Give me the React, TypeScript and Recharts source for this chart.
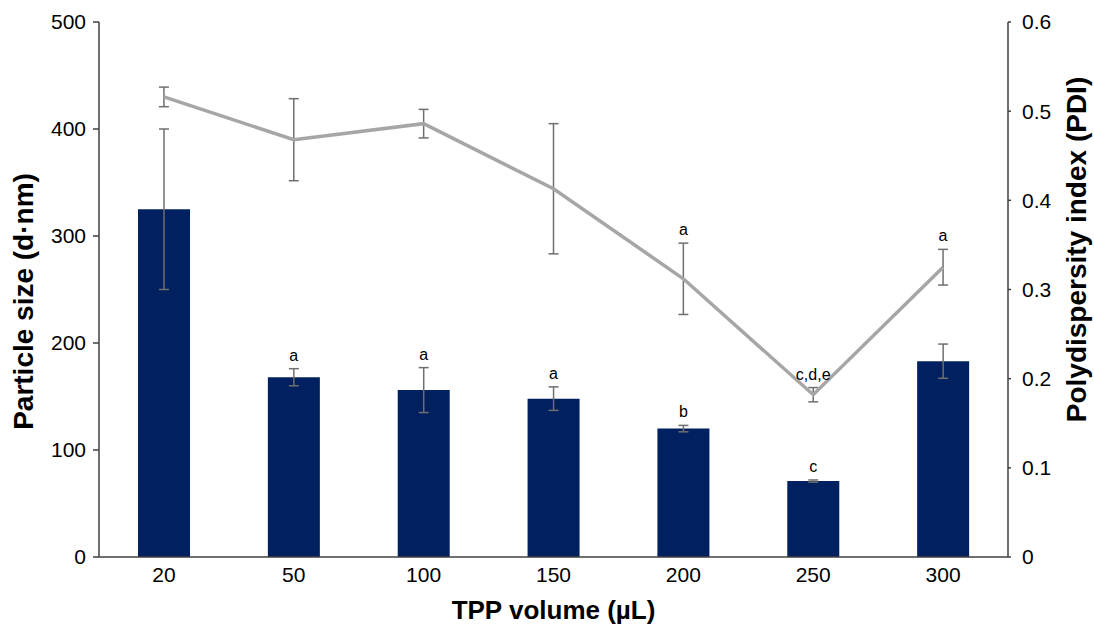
import React from 'react';
import { ComposedChart, Bar, Line, XAxis, YAxis, ErrorBar, LabelList } from 'recharts';

const volumes = ['20', '50', '100', '150', '200', '250', '300'];
const particleSize = [325, 168, 156, 148, 120, 71, 183];
const sizeError = [75, 8, 21, 11, 3, 1, 16];
const sizeLetters = ['', 'a', 'a', 'a', 'b', 'c', ''];
const pdi = [0.516, 0.468, 0.486, 0.413, 0.312, 0.182, 0.325];
const pdiError = [0.011, 0.046, 0.016, 0.073, 0.04, 0.008, 0.02];
const pdiLetters = ['', '', '', '', 'a', 'c,d,e', 'a'];
const sizeTicks = [0, 100, 200, 300, 400, 500];
const pdiTicks = [0, 0.1, 0.2, 0.3, 0.4, 0.5, 0.6];

const data = volumes.map((v, i) => ({
    volume: v,
    size: particleSize[i],
    sizeErr: sizeError[i],
    sizeTop: particleSize[i] + sizeError[i],
    sizeLetter: sizeLetters[i],
    pdi: pdi[i],
    pdiErr: pdiError[i],
    pdiTop: pdi[i] + pdiError[i],
    pdiLetter: pdiLetters[i],
}));

const axisColor = '#404040';
const errColor = '#6f6f6f';

function LeftTitle(props: any) {
    const { viewBox } = props;
    const x = viewBox.x + 33;
    const y = viewBox.y + viewBox.height / 2 + 12;
    return (
        <text x={x} y={y} transform={`rotate(-90, ${x}, ${y})`} textAnchor="middle"
            fontSize={28} fontWeight="bold" fill="#000">Particle size (d·nm)</text>
    );
}

function RightTitle(props: any) {
    const { viewBox } = props;
    const x = viewBox.x + 78;
    const y = viewBox.y + viewBox.height / 2 - 40;
    return (
        <text x={x} y={y} transform={`rotate(-90, ${x}, ${y})`} textAnchor="middle"
            fontSize={28} fontWeight="bold" fill="#000">Polydispersity index (PDI)</text>
    );
}

function BottomTitle(props: any) {
    const { viewBox } = props;
    return (
        <text x={viewBox.x + viewBox.width / 2} y={viewBox.y + 62} textAnchor="middle"
            fontSize={26} fontWeight="bold" fill="#000">TPP volume (µL)</text>
    );
}

function App() {
    const tick = { fill: '#000', fontSize: 21 };
    return (
        <div style={{ position: 'absolute', left: 0, top: 0, width: 1094, height: 624, fontFamily: '"Liberation Sans", Arial, sans-serif', background: '#fff' }}>
            <ComposedChart width={1094} height={624} data={data}
                margin={{ top: 22, right: 0, bottom: 0, left: 0 }}>
                <XAxis dataKey="volume" height={67} tickLine={false} tickSize={0} tickMargin={10}
                    axisLine={{ stroke: axisColor, strokeWidth: 1.5 }} tick={tick}
                    label={<BottomTitle />} />
                <YAxis yAxisId="size" orientation="left" width={99} domain={[0, 500]} ticks={sizeTicks}
                    tickSize={6} tickMargin={7} tick={tick}
                    axisLine={{ stroke: axisColor, strokeWidth: 1.5 }} tickLine={{ stroke: axisColor, strokeWidth: 1.5 }}
                    label={<LeftTitle />} />
                <YAxis yAxisId="pdi" orientation="right" width={86} domain={[0, 0.6]} ticks={pdiTicks}
                    tickSize={3} tickMargin={11} tick={tick}
                    axisLine={{ stroke: axisColor, strokeWidth: 1.5 }} tickLine={{ stroke: axisColor, strokeWidth: 1.5 }}
                    label={<RightTitle />} />
                <Bar yAxisId="size" dataKey="size" fill="#002060" barSize={52} isAnimationActive={false}>
                    <ErrorBar dataKey="sizeErr" width={5} stroke={errColor} strokeWidth={1.5} direction="y" />
                </Bar>
                <Line yAxisId="pdi" dataKey="pdi" stroke="#a6a6a6" strokeWidth={3.5} dot={false}
                    activeDot={false} isAnimationActive={false}>
                    <ErrorBar dataKey="pdiErr" width={5} stroke={errColor} strokeWidth={1.5} direction="y" />
                </Line>
                <Line yAxisId="size" dataKey="sizeTop" stroke="none" dot={false} activeDot={false}
                    isAnimationActive={false}>
                    <LabelList dataKey="sizeLetter" position="top" offset={8} fill="#000" fontSize={16} />
                </Line>
                <Line yAxisId="pdi" dataKey="pdiTop" stroke="none" dot={false} activeDot={false}
                    isAnimationActive={false}>
                    <LabelList dataKey="pdiLetter" position="top" offset={8} fill="#000" fontSize={16} />
                </Line>
            </ComposedChart>
        </div>
    );
}

export default App;
